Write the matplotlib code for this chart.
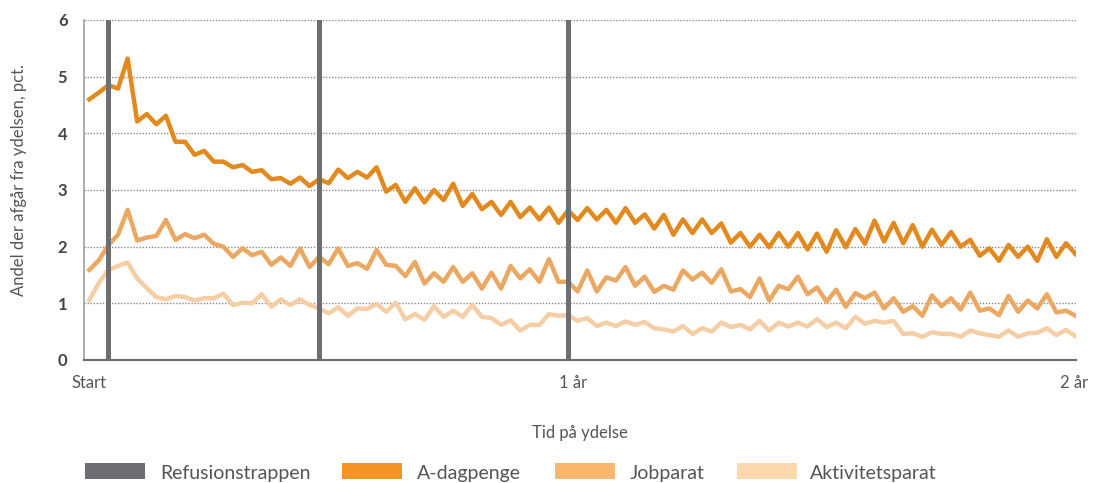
import numpy as np
import matplotlib.pyplot as plt
from matplotlib.patches import Rectangle

plt.rcParams['font.family'] = ['Lato', 'DejaVu Sans']

# uger paa ydelse (uge 2 .. 105)
uger = np.arange(2, 106)

a_dagpenge = [4.60, 4.72, 4.85, 4.79, 5.32, 4.21, 4.34, 4.16, 4.31, 3.85, 3.85, 3.62, 3.69, 3.50, 3.50,
              3.40, 3.44, 3.32, 3.35, 3.19, 3.21, 3.11, 3.22, 3.07, 3.19, 3.12, 3.36, 3.21, 3.32, 3.22,
              3.40, 2.97, 3.09, 2.79, 3.03, 2.78, 3.00, 2.82, 3.11, 2.72, 2.93, 2.66, 2.79, 2.56, 2.79,
              2.52, 2.69, 2.48, 2.69, 2.42, 2.64, 2.47, 2.68, 2.48, 2.65, 2.42, 2.68, 2.42, 2.57,
              2.32, 2.56, 2.21, 2.48, 2.24, 2.48, 2.24, 2.41, 2.07, 2.24, 2.00, 2.21, 1.99, 2.24, 2.00,
              2.24, 1.95, 2.23, 1.91, 2.29, 1.99, 2.31, 2.05, 2.46, 2.09, 2.42, 2.06, 2.38, 2.00, 2.30,
              2.03, 2.26, 2.00, 2.12, 1.84, 1.97, 1.75, 2.03, 1.82, 2.00, 1.75, 2.13, 1.82, 2.06, 1.87]

jobparat = [1.59, 1.76, 2.03, 2.21, 2.65, 2.11, 2.16, 2.19, 2.47, 2.12, 2.22, 2.15, 2.21, 2.05, 2.00,
            1.82, 1.97, 1.85, 1.91, 1.68, 1.81, 1.66, 1.97, 1.64, 1.82, 1.69, 1.97, 1.66, 1.71, 1.61,
            1.94, 1.68, 1.66, 1.48, 1.73, 1.35, 1.53, 1.38, 1.64, 1.38, 1.53, 1.26, 1.54, 1.26, 1.66,
            1.44, 1.60, 1.38, 1.78, 1.38, 1.38, 1.21, 1.58, 1.21, 1.46, 1.40, 1.64, 1.31, 1.47,
            1.20, 1.31, 1.24, 1.58, 1.42, 1.54, 1.36, 1.60, 1.21, 1.25, 1.11, 1.44, 1.05, 1.31, 1.25,
            1.47, 1.16, 1.28, 1.03, 1.24, 0.94, 1.18, 1.09, 1.19, 0.91, 1.09, 0.85, 0.95, 0.78, 1.14,
            0.95, 1.09, 0.89, 1.19, 0.87, 0.91, 0.79, 1.13, 0.85, 1.05, 0.91, 1.16, 0.84, 0.87, 0.78]

aktivitetsparat = [1.06, 1.36, 1.59, 1.66, 1.72, 1.44, 1.27, 1.11, 1.07, 1.13, 1.11, 1.05, 1.09, 1.09, 1.17,
                   0.97, 1.01, 1.00, 1.16, 0.94, 1.07, 0.97, 1.07, 0.97, 0.91, 0.82, 0.93, 0.78, 0.91, 0.90,
                   0.99, 0.85, 1.01, 0.72, 0.81, 0.71, 0.95, 0.76, 0.87, 0.76, 0.97, 0.76, 0.74, 0.62, 0.70,
                   0.52, 0.62, 0.62, 0.81, 0.78, 0.79, 0.69, 0.74, 0.60, 0.66, 0.60, 0.68, 0.62, 0.67,
                   0.56, 0.54, 0.50, 0.60, 0.46, 0.56, 0.50, 0.66, 0.58, 0.62, 0.54, 0.69, 0.52, 0.66, 0.59,
                   0.66, 0.59, 0.72, 0.58, 0.66, 0.56, 0.76, 0.64, 0.69, 0.66, 0.69, 0.46, 0.47, 0.41, 0.49,
                   0.46, 0.46, 0.41, 0.52, 0.47, 0.44, 0.41, 0.52, 0.41, 0.47, 0.48, 0.56, 0.44, 0.53, 0.42]

refusion_uger = [4, 26, 52]

xtick_pos = [2, 52.5, 104.8]
xtick_labels = ['Start', '1 år', '2 år']

legend_labels = ['Refusionstrappen', 'A-dagpenge', 'Jobparat', 'Aktivitetsparat']
legend_colors = ['#6d6e71', '#f39423', '#f9b66c', '#fdd8ae']

c_ref = '#6d6e71'
c_adp = '#e2891f'
c_job = '#eaa862'
c_akt = '#f5cea5'
txt = '#555555'

W, H = 1093, 483
fig = plt.figure(figsize=(W / 100, H / 100), dpi=100)
ax = fig.add_axes([0.0769, 0.2547, 0.9076, 0.7039])

for u in refusion_uger:
    ax.axvline(u, color=c_ref, lw=3.6, zorder=3)

ax.plot(uger, aktivitetsparat, color=c_akt, lw=3.2, zorder=2)
ax.plot(uger, jobparat, color=c_job, lw=3.2, zorder=2)
ax.plot(uger, a_dagpenge, color=c_adp, lw=3.2, zorder=2)

ax.set_xlim(1.45, 105.05)
ax.set_ylim(0, 6)
ax.set_yticks(range(0, 7))
ax.set_xticks(xtick_pos)
ax.set_xticklabels(xtick_labels)
ax.yaxis.grid(True, color='#8a8a8a', linestyle=(0, (1, 1.2)), lw=1)
ax.set_axisbelow(True)

for s in ['top', 'right']:
    ax.spines[s].set_visible(False)
ax.spines['left'].set_color('#a0a0a0')
ax.spines['left'].set_linewidth(1.2)
ax.spines['bottom'].set_color('#6d6e71')
ax.spines['bottom'].set_linewidth(1.5)

ax.tick_params(axis='x', length=0, pad=11, labelsize=12, labelcolor=txt)
ax.tick_params(axis='y', length=0, pad=12, labelsize=12, labelcolor='#444444')
for t in ax.get_yticklabels():
    t.set_fontweight('bold')

ax.set_ylabel('Andel der afgår fra ydelsen, pct.', fontsize=12, color=txt)
ax.yaxis.set_label_coords(-0.058, 0.53)
ax.set_xlabel('Tid på ydelse', fontsize=12, color=txt)
ax.xaxis.set_label_coords(0.4995, -0.19)

# legend drawn by hand so the entries sit where they do in the original
swatch_x = [85, 342, 555, 737]
text_x = [160, 417, 630, 810]
for sx, tx, lab, col in zip(swatch_x, text_x, legend_labels, legend_colors):
    fig.add_artist(Rectangle((sx / W, 1 - 479 / H), 60 / W, 16 / H,
                             transform=fig.transFigure, color=col, lw=0))
    fig.text(tx / W, 1 - 474 / H, lab, fontsize=14, color=txt, va='center', ha='left')

fig.savefig('out.png', dpi=100)
